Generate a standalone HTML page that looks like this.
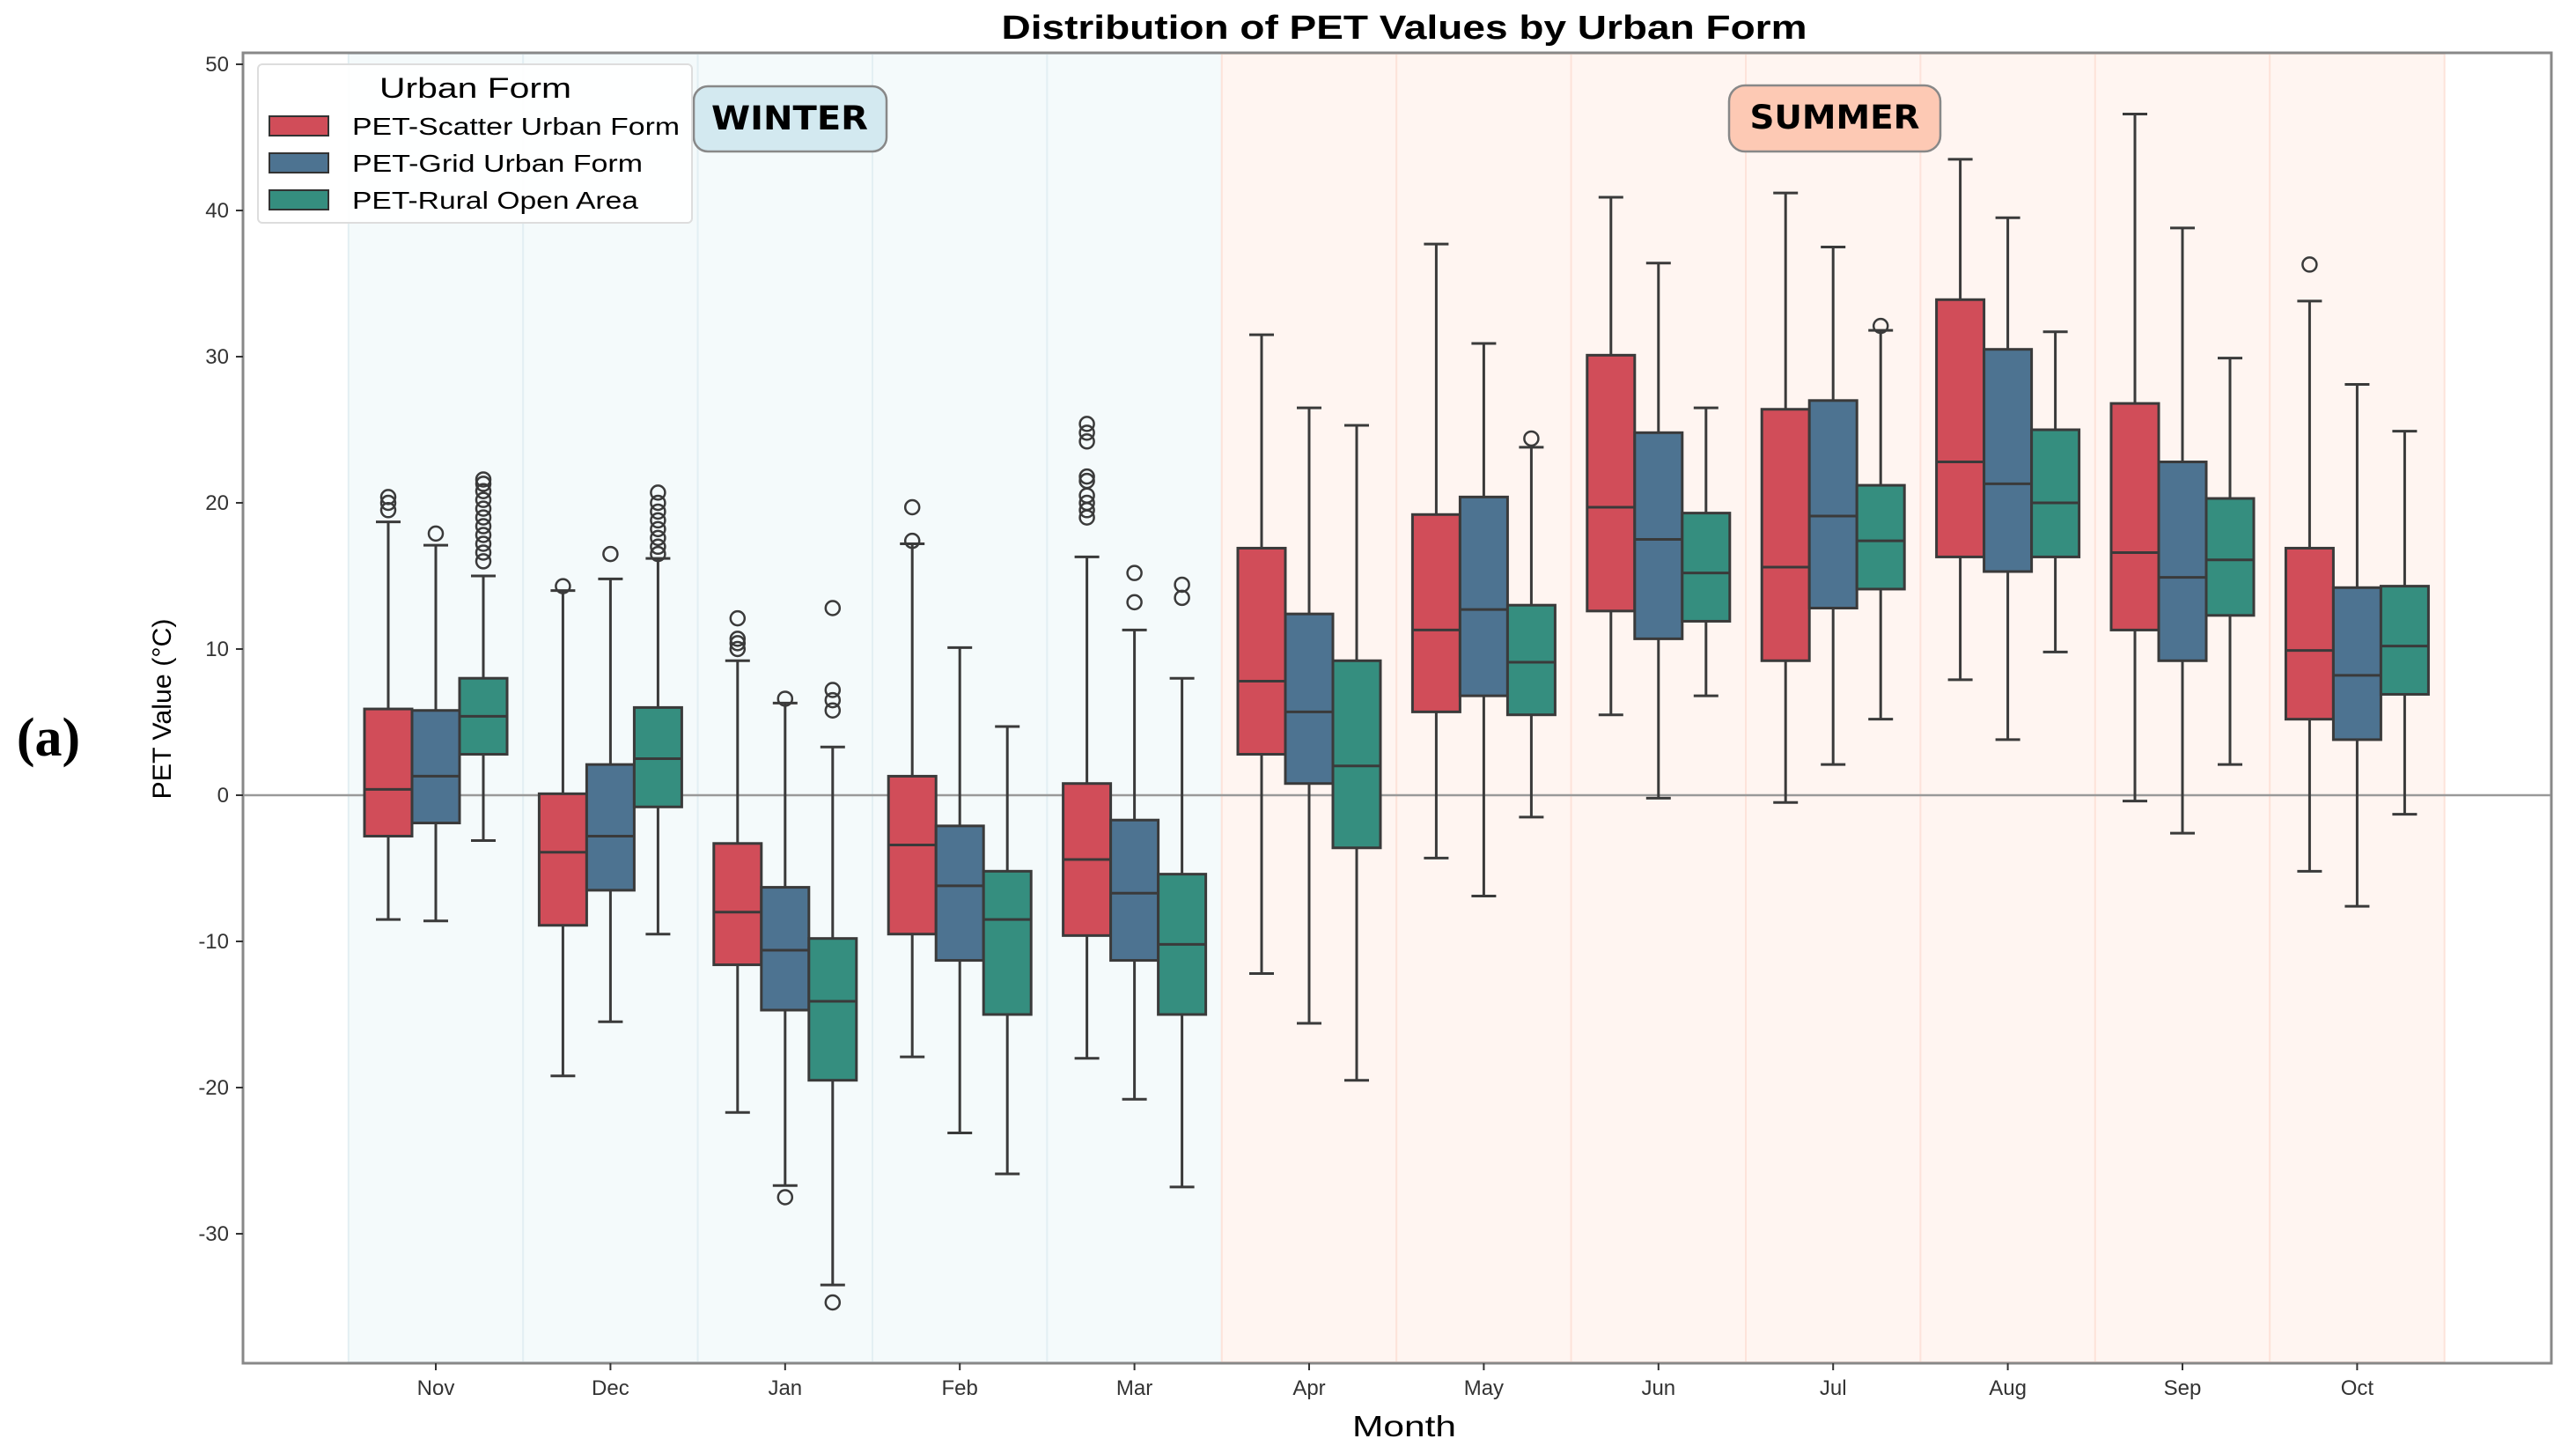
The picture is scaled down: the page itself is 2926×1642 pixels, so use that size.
<!DOCTYPE html>
<html><head><meta charset="utf-8"><style>
html,body{margin:0;padding:0;background:#fff;}
svg{display:block;}
text{font-family:"Liberation Sans","DejaVu Sans",sans-serif;}
</style></head><body>
<svg id="chart" width="2926" height="1642" viewBox="0 0 2926 1642" xmlns="http://www.w3.org/2000/svg">
<g id="bands"></g>
<rect x="276" y="60" width="2622" height="1488" fill="none" stroke="#888" stroke-width="3"/>
<g id="grid"></g>
<g id="boxes"></g>
<g id="axes"></g>
<text x="1595" y="44" text-anchor="middle" font-size="38" font-weight="bold" textLength="915" lengthAdjust="spacingAndGlyphs">Distribution of PET Values by Urban Form</text>
<text x="1595" y="1631" text-anchor="middle" font-size="33" textLength="118" lengthAdjust="spacingAndGlyphs">Month</text>
<text transform="translate(194,805) rotate(-90)" text-anchor="middle" font-size="30" textLength="205" lengthAdjust="spacingAndGlyphs">PET Value (°C)</text>
<text x="55" y="858" text-anchor="middle" font-size="62" font-weight="bold" style="font-family:'Liberation Serif',serif">(a)</text>
<g>
<rect x="788" y="98" width="219" height="74" rx="16" fill="#d3e9f0" stroke="#888" stroke-width="2.5"/>
<text x="897" y="147" text-anchor="middle" font-size="37" font-weight="bold" style="font-family:'DejaVu Sans',sans-serif" textLength="178" lengthAdjust="spacingAndGlyphs">WINTER</text>
</g>
<g>
<rect x="1964" y="97" width="240" height="75" rx="18" fill="#fdc9b4" stroke="#888" stroke-width="2.5"/>
<text x="2084" y="146" text-anchor="middle" font-size="37" font-weight="bold" style="font-family:'DejaVu Sans',sans-serif" textLength="193" lengthAdjust="spacingAndGlyphs">SUMMER</text>
</g>
<g>
<rect x="293" y="73" width="493" height="180" rx="5" fill="#fff" fill-opacity="0.9" stroke="#ddd" stroke-width="2"/>
<text x="540" y="111" text-anchor="middle" font-size="32" textLength="218" lengthAdjust="spacingAndGlyphs">Urban Form</text>
<g><rect x="306" y="132" width="67" height="22" fill="#d14d59" stroke="#333" stroke-width="2"/><text x="400" y="153" font-size="28" textLength="372" lengthAdjust="spacingAndGlyphs">PET-Scatter Urban Form</text></g>
<g><rect x="306" y="174" width="67" height="22" fill="#4d7391" stroke="#333" stroke-width="2"/><text x="400" y="195" font-size="28" textLength="330" lengthAdjust="spacingAndGlyphs">PET-Grid Urban Form</text></g>
<g><rect x="306" y="216" width="67" height="22" fill="#358e7f" stroke="#333" stroke-width="2"/><text x="400" y="237" font-size="28" textLength="325" lengthAdjust="spacingAndGlyphs">PET-Rural Open Area</text></g>
</g>
</svg>
<script>
const months = ["Nov","Dec","Jan","Feb","Mar","Apr","May","Jun","Jul","Aug","Sep","Oct"];
const yTicks = [-30,-20,-10,0,10,20,30,40,50];
// each entry: [whiskerLow, q1, median, q3, whiskerHigh]
const scatterStats = [[-8.5,-2.8,0.4,5.9,18.7],[-19.2,-8.9,-3.9,0.1,14],[-21.7,-11.6,-8,-3.3,9.2],[-17.9,-9.5,-3.4,1.3,17.2],[-18,-9.6,-4.4,0.8,16.3],[-12.2,2.8,7.8,16.9,31.5],[-4.3,5.7,11.3,19.2,37.7],[5.5,12.6,19.7,30.1,40.9],[-0.5,9.2,15.6,26.4,41.2],[7.9,16.3,22.8,33.9,43.5],[-0.4,11.3,16.6,26.8,46.6],[-5.2,5.2,9.9,16.9,33.8]];
const gridStats = [[-8.6,-1.9,1.3,5.8,17.1],[-15.5,-6.5,-2.8,2.1,14.8],[-26.7,-14.7,-10.6,-6.3,6.3],[-23.1,-11.3,-6.2,-2.1,10.1],[-20.8,-11.3,-6.7,-1.7,11.3],[-15.6,0.8,5.7,12.4,26.5],[-6.9,6.8,12.7,20.4,30.9],[-0.2,10.7,17.5,24.8,36.4],[2.1,12.8,19.1,27,37.5],[3.8,15.3,21.3,30.5,39.5],[-2.6,9.2,14.9,22.8,38.8],[-7.6,3.8,8.2,14.2,28.1]];
const ruralStats = [[-3.1,2.8,5.4,8,15],[-9.5,-0.8,2.5,6,16.2],[-33.5,-19.5,-14.1,-9.8,3.3],[-25.9,-15,-8.5,-5.2,4.7],[-26.8,-15,-10.2,-5.4,8],[-19.5,-3.6,2,9.2,25.3],[-1.5,5.5,9.1,13,23.8],[6.8,11.9,15.2,19.3,26.5],[5.2,14.1,17.4,21.2,31.8],[9.8,16.3,20,25,31.7],[2.1,12.3,16.1,20.3,29.9],[-1.3,6.9,10.2,14.3,24.9]];
const scatterOut = [[19.5,20,20.4],[14.3],[10,10.4,10.7,12.1],[17.4,19.7],[19,19.5,20,20.5,21.5,21.8,24.2,24.8,25.4],[],[],[],[],[],[],[36.3]];
const gridOut = [[17.9],[16.5],[6.6,-27.5],[],[13.2,15.2],[],[],[],[],[],[],[]];
const ruralOut = [[16,16.6,17.2,17.8,18.4,19,19.6,20.2,20.8,21.3,21.6],[16.5,17,17.6,18.2,18.8,19.4,20,20.7],[5.8,6.5,7.2,12.8,-34.7],[],[13.5,14.4],[],[24.4],[],[32.1],[],[],[]];
const seasons = ["winter","winter","winter","winter","winter","summer","summer","summer","summer","summer","summer","summer"];

const NS="http://www.w3.org/2000/svg";
const x0=495, step=198.4, boxW=54;
const yScale=v=>903-16.6*v;
const xScale=i=>x0+step*i;
function mk(tag,attrs,parent){const e=document.createElementNS(NS,tag);for(const k in attrs)e.setAttribute(k,attrs[k]);parent.appendChild(e);return e;}
const bands=document.getElementById('bands'),boxes=document.getElementById('boxes'),axes=document.getElementById('axes'),grid=document.getElementById('grid');
months.forEach((m,i)=>{
  const w=seasons[i]==="winter";
  const r=mk('rect',{x:xScale(i)-step/2,y:61,width:step,height:1486,fill:w?'#f4fafb':'#fff5f1',stroke:w?'#e3eff3':'#fde3da','stroke-width':2},bands);
  
  
});
const zl=mk('line',{x1:277,x2:2897,y1:yScale(0),y2:yScale(0),stroke:'#999','stroke-width':2.5},grid);


// y ticks
yTicks.forEach(t=>{
  const y=yScale(t);
  const l=mk('line',{x1:268,x2:276,y1:y,y2:y,stroke:'#333','stroke-width':2},axes);
  
  
  const tx=mk('text',{x:260,y:y+8,'text-anchor':'end','font-size':24,fill:'#333'},axes);
  tx.textContent=t;
  
  
});
months.forEach((m,i)=>{
  const x=xScale(i);
  const l=mk('line',{x1:x,x2:x,y1:1548,y2:1556,stroke:'#333','stroke-width':2},axes);
  
  
  const tx=mk('text',{x:x,y:1584,'text-anchor':'middle','font-size':24,fill:'#333'},axes);
  tx.textContent=m;
  
  
});
const series=[{s:scatterStats,o:scatterOut,c:'#d14d59',n:'scatter',off:-1},{s:gridStats,o:gridOut,c:'#4d7391',n:'grid',off:0},{s:ruralStats,o:ruralOut,c:'#358e7f',n:'rural',off:1}];
series.forEach(se=>{
  se.s.forEach((d,i)=>{
    const cx=xScale(i)+se.off*boxW;
    const g=mk('g',{},boxes);
    
    
    const st={stroke:'#3a3a3a','stroke-width':3};
    mk('line',Object.assign({x1:cx,x2:cx,y1:yScale(d[0]),y2:yScale(d[1])},st),g);
    mk('line',Object.assign({x1:cx,x2:cx,y1:yScale(d[3]),y2:yScale(d[4])},st),g);
    mk('line',Object.assign({x1:cx-14,x2:cx+14,y1:yScale(d[0]),y2:yScale(d[0])},st),g);
    mk('line',Object.assign({x1:cx-14,x2:cx+14,y1:yScale(d[4]),y2:yScale(d[4])},st),g);
    mk('rect',{x:cx-boxW/2,y:yScale(d[3]),width:boxW,height:yScale(d[1])-yScale(d[3]),fill:se.c,stroke:'#3a3a3a','stroke-width':3},g);
    mk('line',Object.assign({x1:cx-boxW/2,x2:cx+boxW/2,y1:yScale(d[2]),y2:yScale(d[2])},st),g);
    se.o[i].forEach(v=>{
      const c=mk('circle',{cx:cx,cy:yScale(v),r:8,fill:'none',stroke:'#3a3a3a','stroke-width':2.5},g);
      
      
    });
  });
});
</script>
</body></html>
